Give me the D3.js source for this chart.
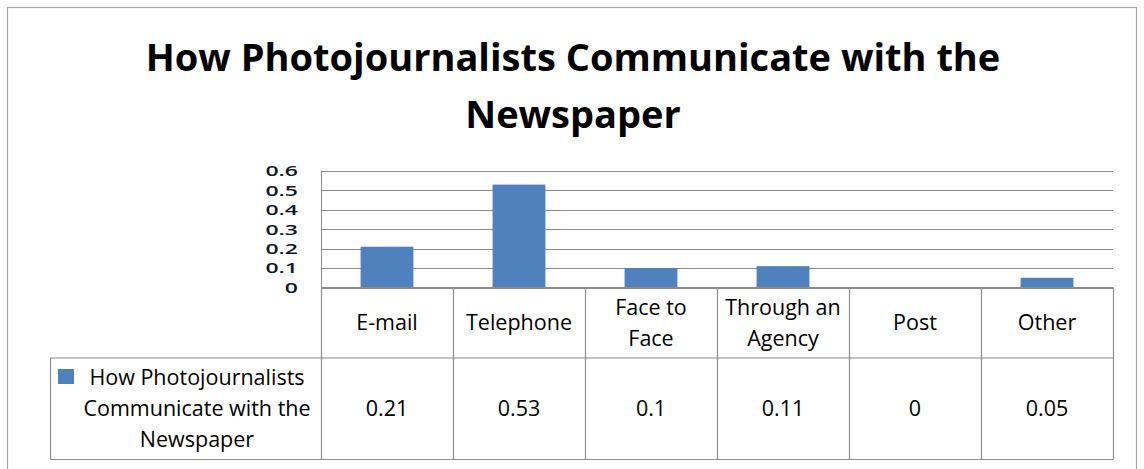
<!DOCTYPE html>
<html>
<head>
<meta charset="utf-8">
<script src="https://cdn.jsdelivr.net/npm/d3@7"></script>
<style>
  html, body { margin: 0; padding: 0; background: #fff; }
  svg { display: block; }
  text { font-family: "Open Sans", "DejaVu Sans", sans-serif; fill: #000; }
</style>
</head>
<body>
<svg id="chart" width="1144" height="469"></svg>
<script>
// Chart data
const titleLines = ["How Photojournalists Communicate with the", "Newspaper"];
const categories = ["E-mail", "Telephone", "Face to Face", "Through an Agency", "Post", "Other"];
const categoryLines = [["E-mail"], ["Telephone"], ["Face to", "Face"], ["Through an", "Agency"], ["Post"], ["Other"]];
const values = [0.21, 0.53, 0.1, 0.11, 0, 0.05];
const valueLabels = ["0.21", "0.53", "0.1", "0.11", "0", "0.05"];
const seriesNameLines = ["How Photojournalists", "Communicate with the", "Newspaper"];
const yTicks = [0, 0.1, 0.2, 0.3, 0.4, 0.5, 0.6];

const barColor = "#4F81BD";
const gridColor = "#8c8c8c";
const tableColor = "#8c8c8c";

const svg = d3.select("#chart");

// outer chart frame
svg.append("rect")
  .attr("x", 7.5).attr("y", 7.5)
  .attr("width", 1129).attr("height", 480)
  .attr("fill", "#fff")
  .attr("stroke", "#a6a6a6").attr("stroke-width", 1.2);

// title
svg.append("g").selectAll("text")
  .data(titleLines)
  .join("text")
  .attr("x", 573)
  .attr("y", (d, i) => 71 + i * 57)
  .attr("text-anchor", "middle")
  .style("font-weight", "700")
  .style("font-size", "38px")
  .text(d => d);

// plot geometry
const plotLeft = 321, plotRight = 1113, plotTop = 171, plotBottom = 287.5;
const headerBottom = 358, tableBottom = 459.5, legendLeft = 50.5;

const x = d3.scaleBand().domain(categories).range([plotLeft, plotRight]).paddingInner(0).paddingOuter(0);
const y = d3.scaleLinear().domain([0, 0.6]).range([plotBottom, plotTop]);
const barW = x.bandwidth() / 2.5;

// gridlines
svg.append("g").selectAll("line")
  .data(yTicks)
  .join("line")
  .attr("x1", plotLeft).attr("x2", plotRight)
  .attr("y1", d => Math.round(y(d)) + 0.5).attr("y2", d => Math.round(y(d)) + 0.5)
  .attr("stroke", gridColor).attr("stroke-width", 1);

// vertical axis line
svg.append("line")
  .attr("x1", plotLeft + 0.5).attr("x2", plotLeft + 0.5)
  .attr("y1", plotTop).attr("y2", plotBottom)
  .attr("stroke", gridColor);

// y tick labels (squeezed vertically so they fit the tight tick spacing)
svg.append("g").selectAll("text")
  .data(yTicks)
  .join("text")
  .attr("transform", d => `translate(298,${y(d)}) scale(1,0.64)`)
  .attr("dy", "0.36em")
  .attr("text-anchor", "end")
  .style("font-size", "23px")
  .style("font-weight", "600")
  .style("fill", "#101828")
  .text(d => d === 0 ? "0" : d3.format(".1f")(d));

// bars
svg.append("g").selectAll("rect")
  .data(values)
  .join("rect")
  .attr("x", (d, i) => x(categories[i]) + (x.bandwidth() - barW) / 2)
  .attr("y", d => y(d))
  .attr("width", barW)
  .attr("height", d => plotBottom - y(d))
  .attr("fill", barColor);

// data table lines
const table = svg.append("g").attr("stroke", tableColor).attr("stroke-width", 1.2).attr("fill", "none");
table.append("line").attr("x1", plotLeft).attr("x2", plotRight).attr("y1", plotBottom).attr("y2", plotBottom);
table.append("line").attr("x1", legendLeft).attr("x2", plotRight).attr("y1", headerBottom).attr("y2", headerBottom);
table.append("line").attr("x1", legendLeft).attr("x2", plotRight).attr("y1", tableBottom).attr("y2", tableBottom);
table.append("line").attr("x1", legendLeft).attr("x2", legendLeft).attr("y1", headerBottom).attr("y2", tableBottom);
table.selectAll("line.col")
  .data(categories.map(c => x(c)).concat([plotRight]))
  .join("line")
  .attr("class", "col")
  .attr("x1", d => Math.round(d) + 0.5).attr("x2", d => Math.round(d) + 0.5)
  .attr("y1", plotBottom).attr("y2", tableBottom);

// header labels
const lineH = 31;
const headerMid = (plotBottom + headerBottom) / 2;
svg.append("g").selectAll("text")
  .data(categoryLines)
  .join("text")
  .attr("text-anchor", "middle")
  .style("font-size", "21.5px")
  .each(function(lines, i) {
    const cx = x(categories[i]) + x.bandwidth() / 2;
    const t = d3.select(this);
    lines.forEach((ln, j) => {
      t.append("tspan")
        .attr("x", cx)
        .attr("y", headerMid + (j - (lines.length - 1) / 2) * lineH)
        .attr("dy", "0.36em")
        .text(ln);
    });
  });

// value row
const rowMid = (headerBottom + tableBottom) / 2;
svg.append("g").selectAll("text")
  .data(valueLabels)
  .join("text")
  .attr("x", (d, i) => x(categories[i]) + x.bandwidth() / 2)
  .attr("y", rowMid)
  .attr("dy", "0.36em")
  .attr("text-anchor", "middle")
  .style("font-size", "21.5px")
  .text(d => d);

// legend key and series name
svg.append("rect")
  .attr("x", 58).attr("y", 369)
  .attr("width", 16).attr("height", 15)
  .attr("fill", barColor);
svg.append("g").selectAll("text")
  .data(seriesNameLines)
  .join("text")
  .attr("x", 197)
  .attr("y", (d, i) => rowMid + (i - 1) * lineH)
  .attr("dy", "0.36em")
  .attr("text-anchor", "middle")
  .style("font-size", "21.5px")
  .text(d => d);
</script>
</body>
</html>
